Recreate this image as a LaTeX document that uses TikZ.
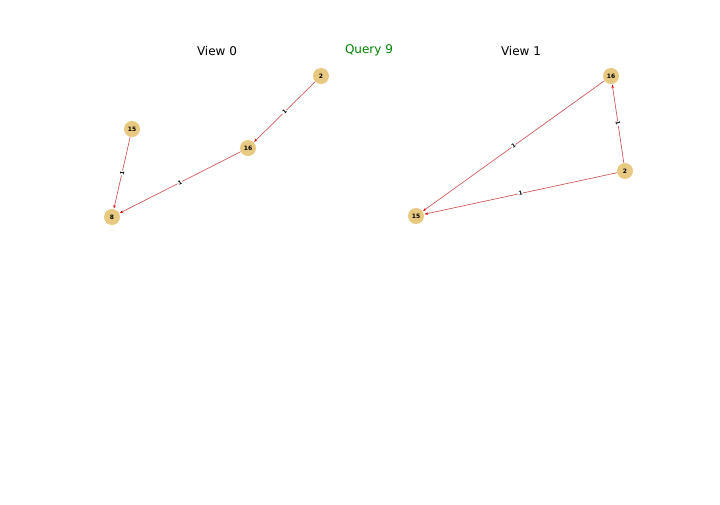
\documentclass[tikz,border=0pt]{standalone}
\usepackage{fontspec}
\setmainfont{DejaVu Sans}
\usetikzlibrary{arrows.meta}
\definecolor{nodefill}{RGB}{232,201,130}
\definecolor{edgecol}{RGB}{205,92,92}
\definecolor{titlegreen}{RGB}{0,128,0}
\tikzset{
  gnode/.style={circle,fill=nodefill,draw=none,minimum size=16pt,inner sep=0pt,font=\fontsize{6}{7}\selectfont\bfseries},
  gedge/.style={draw=edgecol,line width=0.7pt,-{Stealth[length=3.5pt,width=2.5pt,color=red!85!black]},shorten >=0.5pt},
  elabel/.style={fill=white,inner sep=0.6pt,font=\fontsize{5.5}{5.5}\selectfont\bfseries,sloped,pos=0.5},
  gtitle/.style={font=\fontsize{12}{14}\selectfont}
}
\begin{document}
\begin{tikzpicture}[x=1pt,y=-1pt]
\useasboundingbox (0,0) rectangle (720,504);
\node[gtitle] (t0) at (217,51) {View 0};
\node[gtitle,text=titlegreen] (tq) at (369,50) {Query 9};
\node[gtitle] (t1) at (521,51) {View 1};
% View 0
\node[gnode] (a2) at (321,76) {2};
\node[gnode] (a16) at (248,148) {16};
\node[gnode] (a15) at (132,129) {15};
\node[gnode] (a8) at (112,217) {8};
\draw[gedge] (a2) -- node[elabel] {1} (a16);
\draw[gedge] (a16) -- node[elabel] {1} (a8);
\draw[gedge] (a15) -- node[elabel] {1} (a8);
% View 1
\node[gnode] (b16) at (611,76) {16};
\node[gnode] (b2) at (625,171) {2};
\node[gnode] (b15) at (416,216) {15};
\draw[gedge] (b16) -- node[elabel] {1} (b15);
\draw[gedge] (b2) -- node[elabel] {1} (b15);
\draw[gedge] (b2) -- node[elabel] {1} (b16);
\end{tikzpicture}
\end{document}
